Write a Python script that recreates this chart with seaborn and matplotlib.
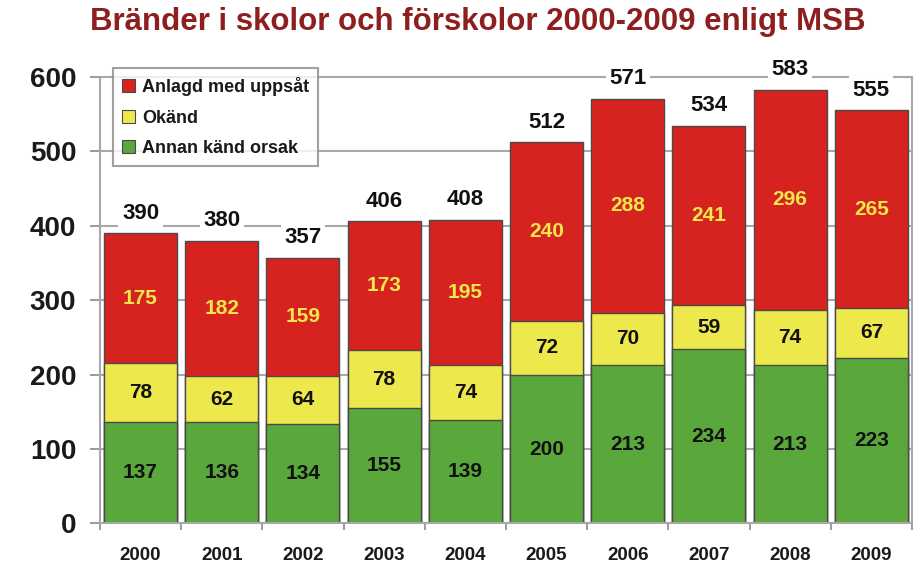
import matplotlib
matplotlib.use("Agg")
import matplotlib.pyplot as plt
import seaborn as sns
import pandas as pd
import numpy as np
from matplotlib.patches import Patch

years = ["2000", "2001", "2002", "2003", "2004", "2005", "2006", "2007", "2008", "2009"]
annan = [137, 136, 134, 155, 139, 200, 213, 234, 213, 223]
okand = [78, 62, 64, 78, 74, 72, 70, 59, 74, 67]
anlagd = [175, 182, 159, 173, 195, 240, 288, 241, 296, 265]
totals = [390, 380, 357, 406, 408, 512, 571, 534, 583, 555]
series_names = ["Anlagd med uppsåt", "Okänd", "Annan känd orsak"]
title = "Bränder i skolor och förskolor 2000-2009 enligt MSB"

RED = "#D7231F"
YELLOW = "#EDE84B"
GREEN = "#5AA83B"
EDGE = "#4a4a4a"

sns.set_theme(style="white")
plt.rcParams["font.family"] = ["Liberation Sans", "DejaVu Sans"]
narrow = ["Liberation Sans Narrow", "Liberation Sans", "DejaVu Sans"]

df = pd.DataFrame({"year": years, "annan": annan, "okand": okand, "anlagd": anlagd})
df["lvl1"] = df["annan"]
df["lvl2"] = df["annan"] + df["okand"]
df["lvl3"] = df["lvl2"] + df["anlagd"]

fig = plt.figure(figsize=(9.17, 5.69), dpi=100)
ax = fig.add_axes([0.109, 0.080, 0.8855, 0.7847])

for col, color in [("lvl3", RED), ("lvl2", YELLOW), ("lvl1", GREEN)]:
    sns.barplot(data=df, x="year", y=col, color=color, width=0.9,
                edgecolor=EDGE, linewidth=1.0, saturation=1, ax=ax, zorder=2)

ax.set_ylim(0, 600)
ax.set_xlim(-0.5, len(years) - 0.5)
ax.set_yticks(np.arange(0, 601, 100))
ax.set_axisbelow(True)
ax.yaxis.grid(True, color="#a8a8a8", linewidth=1.5, zorder=0)
ax.xaxis.grid(False)
for s in ax.spines.values():
    s.set_color("#a8a8a8")
    s.set_linewidth(1.5)
ax.set_xlabel("")
ax.set_ylabel("")

ax.tick_params(axis="y", length=7, width=1.2, color="#8a8a8a", pad=10, labelsize=20, left=True)
for lab in ax.get_yticklabels():
    lab.set_fontweight("bold")
    lab.set_color("#1a1a1a")

ax.set_xticks(range(len(years)))
ax.set_xticklabels(years)
ax.tick_params(axis="x", length=0, pad=17)
for lab in ax.get_xticklabels():
    lab.set_fontweight("bold")
    lab.set_fontsize(13.5)
    lab.set_family(narrow)
    lab.set_color("#1a1a1a")
ax.set_xticks(np.arange(-0.5, len(years), 1.0), minor=True)
ax.tick_params(axis="x", which="minor", length=5, width=1.2, color="#8a8a8a", bottom=True)

for i in range(len(years)):
    ax.text(i, annan[i] / 2, str(annan[i]), ha="center", va="center",
            fontsize=15, fontweight="bold", color="#111111", zorder=5)
    ax.text(i, annan[i] + okand[i] / 2, str(okand[i]), ha="center", va="center",
            fontsize=15, fontweight="bold", color="#111111", zorder=5)
    ax.text(i, annan[i] + okand[i] + anlagd[i] / 2, str(anlagd[i]), ha="center", va="center",
            fontsize=15, fontweight="bold", color="#F2E84A", zorder=5)
    ax.annotate(str(totals[i]), xy=(i, totals[i]), xytext=(0, 14.5), textcoords="offset points",
                ha="center", va="center", fontsize=16, fontweight="bold", color="#111111",
                zorder=6, annotation_clip=False,
                bbox=dict(facecolor="white", edgecolor="none", pad=2.5))

handles = [Patch(facecolor=RED, edgecolor=EDGE, linewidth=0.8),
           Patch(facecolor=YELLOW, edgecolor=EDGE, linewidth=0.8),
           Patch(facecolor=GREEN, edgecolor=EDGE, linewidth=0.8)]
leg = fig.legend(handles, series_names, loc="upper left",
                 bbox_to_anchor=(113 / 917, 1 - 68 / 569),
                 frameon=True, fancybox=False, fontsize=13, handlelength=0.7, handleheight=0.7,
                 handletextpad=0.4, labelspacing=0.75, borderpad=0.5, borderaxespad=0)
leg.get_frame().set_edgecolor("#8a8a8a")
leg.get_frame().set_linewidth(1.5)
leg.set_zorder(10)
for t in leg.get_texts():
    t.set_fontweight("bold")
    t.set_color("#1a1a1a")

fig.text(0.521, 1 - 22 / 569, title, ha="center", va="center", fontsize=22.5,
         fontweight="bold", color="#8E1F1F", family=narrow)

fig.savefig("out.png", dpi=100, facecolor="white")
